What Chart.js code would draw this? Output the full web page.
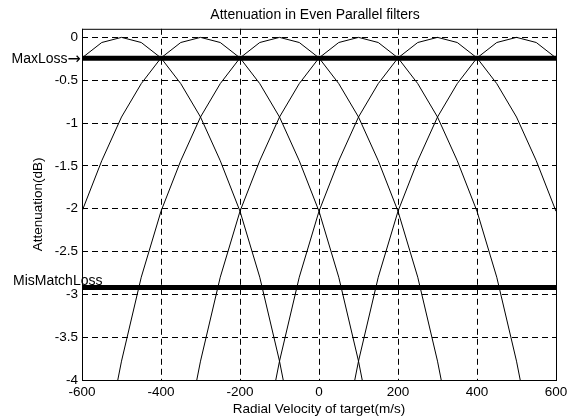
<!DOCTYPE html>
<html>
<head>
<meta charset="utf-8">
<script src="https://cdn.jsdelivr.net/npm/chart.js@4.4.1/dist/chart.umd.min.js"></script>
<style>
  html, body { margin: 0; padding: 0; background: #fff; }
  #wrap { width: 568px; height: 417px; }
</style>
</head>
<body>
<div id="wrap"><canvas id="chart"></canvas></div>
<script>
const centers = [-500, -300, -100, 100, 300, 500];
const offsets = [-450, -400, -350, -300, -250, -200, -150, -100, -50, 0, 50, 100, 150, 200, 250, 300, 350, 400, 450];
const lobe    = [-4.95, -3.78, -2.8, -2.03, -1.44, -0.93, -0.54, -0.24, -0.06, 0, -0.06, -0.24, -0.54, -0.93, -1.44, -2.03, -2.8, -3.78, -4.95];

const maxLoss = -0.245;
const misMatchLoss = -2.92;

const xTicks = [-600, -400, -200, 0, 200, 400, 600];
const yTicks = [-4, -3.5, -3, -2.5, -2, -1.5, -1, -0.5, 0];

const fontFamily = '"Liberation Sans", Arial, Helvetica, sans-serif';

const datasets = centers.map(c => ({
    data: offsets.map((o, i) => ({ x: c + o, y: lobe[i] })),
    borderColor: '#000',
    borderWidth: 1,
    showLine: true,
    pointRadius: 0,
    tension: 0
}));

datasets.push({
    data: [{ x: -600, y: maxLoss }, { x: 600, y: maxLoss }],
    borderColor: '#000', borderWidth: 5, showLine: true, pointRadius: 0
});
datasets.push({
    data: [{ x: -600, y: misMatchLoss }, { x: 600, y: misMatchLoss }],
    borderColor: '#000', borderWidth: 5, showLine: true, pointRadius: 0
});

// box round the plot, the title and the two loss labels
const frame = {
    id: 'frame',
    afterDatasetsDraw(chart) {
        const { ctx, chartArea: a, scales: { y } } = chart;
        ctx.save();
        ctx.strokeStyle = '#000';
        ctx.lineWidth = 1;
        ctx.strokeRect(a.left + 0.5, a.top + 0.5, a.right - a.left, a.bottom - a.top);
        ctx.fillStyle = '#000';

        ctx.font = '14px ' + fontFamily;
        ctx.textAlign = 'center';
        ctx.textBaseline = 'middle';
        ctx.fillText('Attenuation in Even Parallel filters', 315, 15.5);

        const yMax = y.getPixelForValue(maxLoss) + 1;
        ctx.font = '16px "DejaVu Sans", sans-serif';
        ctx.textAlign = 'right';
        ctx.fillText('\u2192', a.left - 1, yMax);
        const arrowW = ctx.measureText('\u2192').width;
        ctx.font = '14px ' + fontFamily;
        ctx.fillText('MaxLoss', a.left - 1 - arrowW, yMax);

        ctx.textAlign = 'left';
        ctx.textBaseline = 'alphabetic';
        ctx.fillText('MisMatchLoss', 13, y.getPixelForValue(misMatchLoss) - 2);
        ctx.restore();
    }
};

new Chart(document.getElementById('chart'), {
    type: 'scatter',
    data: { datasets },
    plugins: [frame],
    options: {
        responsive: true,
        maintainAspectRatio: false,
        animation: false,
        layout: { padding: { left: 0, right: 12, top: 28.8, bottom: 0 } },
        plugins: {
            legend: { display: false },
            tooltip: { enabled: false }
        },
        scales: {
            x: {
                type: 'linear',
                min: -600,
                max: 600,
                afterBuildTicks: s => { s.ticks = xTicks.map(v => ({ value: v })); },
                afterFit: s => { s.height = 37; s.paddingLeft = 0; s.paddingRight = 0; },
                grid: { color: '#000', lineWidth: 1, drawTicks: false },
                border: { display: false, dash: [6, 4] },
                ticks: { color: '#000', padding: 4, font: { family: fontFamily, size: 13.5 }, callback: v => String(v) },
                title: {
                    display: true,
                    text: 'Radial Velocity of target(m/s)',
                    color: '#000',
                    font: { family: fontFamily, size: 13.5 },
                    padding: { top: 0, bottom: 0 }
                }
            },
            y: {
                type: 'linear',
                min: -4,
                max: 0.1,
                afterBuildTicks: s => { s.ticks = yTicks.map(v => ({ value: v })); },
                afterFit: s => { s.width = 82; s.paddingTop = 0; s.paddingBottom = 0; },
                grid: { color: '#000', lineWidth: 1, drawTicks: false },
                border: { display: false, dash: [6, 4] },
                ticks: { color: '#000', padding: 4, font: { family: fontFamily, size: 13.5 }, callback: v => String(v) },
                title: {
                    display: true,
                    text: 'Attenuation(dB)',
                    color: '#000',
                    font: { family: fontFamily, size: 13.5 },
                    padding: { top: 30, bottom: 0 }
                }
            }
        }
    }
});
</script>
</body>
</html>
